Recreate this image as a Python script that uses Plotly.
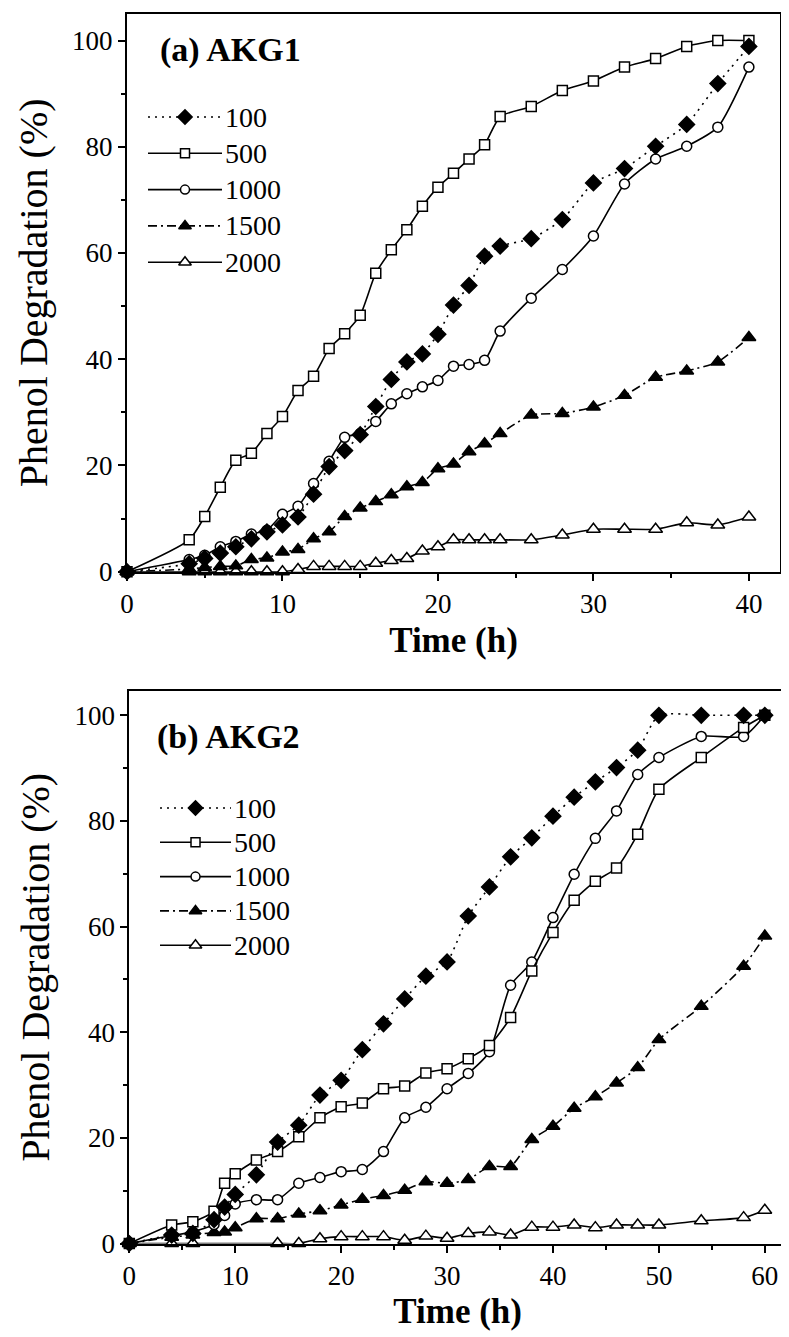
import plotly.graph_objects as go

# The page body adds an 8px margin, so the figure is drawn 8px in from the window
# corner; all layout positions below are given in window pixels and converted.
OFF = 8
FW, FH = 789 - OFF, 1337 - OFF
FONT = "Liberation Serif"


def px_x(p):
    return (p - OFF) / FW


def px_y(p):
    return 1 - (p - OFF) / FH


# ---------------- data ----------------
series_names = ["100", "500", "1000", "1500", "2000"]

# (a) AKG1
time_a = [0, 4, 5, 6, 7, 8, 9, 10, 11, 12, 13, 14, 15, 16, 17, 18, 19, 20, 21, 22,
          23, 24, 26, 28, 30, 32, 34, 36, 38, 40]
a_100 = [0, 1.5, 2.5, 3.5, 4.7, 6.2, 7.5, 8.8, 10.3, 14.6, 19.8, 22.8, 25.8, 31.1, 36.2,
         39.5, 41.0, 44.7, 50.2, 53.9, 59.4, 61.3, 62.7, 66.3, 73.2, 75.9, 80.1, 84.2, 91.9, 98.9]
a_500 = [0, 6.0, 10.4, 15.9, 21.0, 22.3, 26.0, 29.2, 34.1, 36.8, 42.0, 44.8, 48.3, 56.2, 60.6,
         64.4, 68.8, 72.4, 75.0, 77.7, 80.4, 85.7, 87.6, 90.6, 92.4, 95.0, 96.6, 98.9, 100, 100]
a_1000 = [0, 2.3, 3.1, 4.7, 5.7, 7.1, 7.8, 10.8, 12.3, 16.6, 20.8, 25.3, 26.0, 28.3, 31.6,
          33.5, 34.8, 36.0, 38.7, 39.0, 39.8, 45.3, 51.5, 56.9, 63.2, 73.0, 77.7, 80.1, 83.7, 95.0]
a_1500 = [0, 0.5, 0.8, 1.0, 1.1, 2.3, 2.6, 3.7, 4.2, 6.2, 7.5, 10.4, 12.0, 13.2, 14.5,
          16.0, 16.8, 19.4, 20.3, 22.6, 24.1, 26.0, 29.5, 29.8, 31.0, 33.2, 36.6, 37.8, 39.5, 44.1]
a_2000 = [0, 0, 0, 0, 0, 0, 0, 0, 0.4, 1.0, 1.0, 1.0, 1.0, 1.6, 2.1,
          2.5, 3.9, 4.7, 6.0, 6.0, 6.0, 6.0, 6.0, 6.9, 8.0, 8.0, 8.0, 9.2, 8.8, 10.3]

# (b) AKG2
time_b = [0, 4, 6, 8, 9, 10, 12, 14, 16, 18, 20, 22, 24, 26, 28, 30, 32, 34, 36, 38,
          40, 42, 44, 46, 48, 50, 54, 58, 60]
b_100 = [0, 1.6, 1.9, 4.5, 6.9, 9.3, 13.0, 19.2, 22.4, 28.1, 30.9, 36.7, 41.6, 46.3, 50.6,
         53.3, 62.0, 67.5, 73.2, 76.8, 80.9, 84.5, 87.4, 90.1, 93.4, 100, 100, 100, 100]
b_500 = [0, 3.5, 4.1, 6.1, 11.4, 13.2, 15.8, 17.4, 20.2, 23.8, 25.9, 26.6, 29.3, 29.8, 32.3,
         33.1, 35.0, 37.5, 42.8, 51.6, 58.9, 65.0, 68.6, 71.1, 77.5, 86.0, 92.0, 97.7, 100]
b_1000 = [0, 1.5, 2.2, 3.6, 5.3, 7.5, 8.3, 8.3, 11.4, 12.5, 13.6, 14.0, 17.4, 23.8, 25.8,
          29.3, 32.2, 36.3, 48.9, 53.3, 61.7, 69.9, 76.7, 81.9, 88.8, 92.0, 96.0, 96.0, 100]
b_1500 = [0, 1.2, 1.6, 2.1, 2.2, 3.0, 4.7, 4.7, 5.6, 6.2, 7.3, 8.4, 9.1, 10.1, 11.7,
          11.4, 12.1, 14.6, 14.6, 19.7, 22.2, 25.6, 27.8, 30.4, 33.3, 38.6, 44.9, 52.5, 58.2]
time_b2000 = [0, 4, 6, 14, 16, 18, 20, 22, 24, 26, 28, 30, 32, 34, 36, 38, 40, 42, 44, 46,
              48, 50, 54, 58, 60]
b_2000 = [0, 0, 0, 0, 0, 0.9, 1.3, 1.3, 1.3, 0.6, 1.4, 1.0, 1.9, 2.2, 1.6, 3.1, 3.1, 3.5, 3.0,
          3.5, 3.5, 3.5, 4.3, 4.9, 6.3]

x_ticks_a = [0, 10, 20, 30, 40]
x_ticks_b = [0, 10, 20, 30, 40, 50, 60]
y_ticks = [0, 20, 40, 60, 80, 100]

# ---------------- styles ----------------
DOT = "2px,5px"
DASHDOT = "9px,4px,2px,4px"
style = {
    "100": dict(dash=DOT, symbol="diamond", fill="black", size=12),
    "500": dict(dash="solid", symbol="square", fill="white", size=10),
    "1000": dict(dash="solid", symbol="circle", fill="white", size=10),
    "1500": dict(dash=DASHDOT, symbol="triangle-up", fill="black", size=12),
    "2000": dict(dash="solid", symbol="triangle-up", fill="white", size=12),
}
draw_order = ["2000", "1500", "1000", "500", "100"]

fig = go.Figure()

panels = [
    ("x", "y", {"100": (time_a, a_100), "500": (time_a, a_500), "1000": (time_a, a_1000),
                "1500": (time_a, a_1500), "2000": (time_a, a_2000)}),
    ("x2", "y2", {"100": (time_b, b_100), "500": (time_b, b_500), "1000": (time_b, b_1000),
                  "1500": (time_b, b_1500), "2000": (time_b2000, b_2000)}),
]

for xa, ya, data in panels:
    for name in draw_order:
        xs, ys = data[name]
        s = style[name]
        fig.add_trace(go.Scatter(
            x=xs, y=ys, mode="lines+markers", name=name, showlegend=False,
            xaxis=xa, yaxis=ya, cliponaxis=False,
            line=dict(color="black", width=1.6, dash=s["dash"], shape="spline", smoothing=0.6),
            marker=dict(symbol=s["symbol"], size=s["size"], color=s["fill"],
                        line=dict(color="black", width=1.5)),
        ))

# ---------------- manual legends (window-pixel overlay axis) ----------------
legend_boxes = [
    dict(x0=148, x1=222, y0=117, dy=36.3),
    dict(x0=160, x1=231, y0=808, dy=34.3),
]
annotations = []
for box in legend_boxes:
    for i, name in enumerate(series_names):
        s = style[name]
        yy = box["y0"] + i * box["dy"]
        fig.add_trace(go.Scatter(
            x=[box["x0"], box["x1"]], y=[yy, yy], mode="lines", showlegend=False,
            xaxis="x3", yaxis="y3", hoverinfo="skip",
            line=dict(color="black", width=1.6, dash=s["dash"]),
        ))
        fig.add_trace(go.Scatter(
            x=[(box["x0"] + box["x1"]) / 2], y=[yy], mode="markers", showlegend=False,
            xaxis="x3", yaxis="y3", hoverinfo="skip",
            marker=dict(symbol=s["symbol"], size=s["size"] - 1, color=s["fill"],
                        line=dict(color="black", width=1.5)),
        ))
        annotations.append(dict(
            x=box["x1"] + 1, y=yy, xref="x3", yref="y3", text=name, showarrow=False,
            xanchor="left", yanchor="middle", font=dict(family=FONT, size=28, color="black"),
        ))

annotations.append(dict(x=px_x(158), y=px_y(50), xref="paper", yref="paper",
                        text="<b>(a) AKG1</b>", showarrow=False, xanchor="left", yanchor="middle",
                        font=dict(family=FONT, size=34, color="black")))
annotations.append(dict(x=px_x(155), y=px_y(737), xref="paper", yref="paper",
                        text="<b>(b) AKG2</b>", showarrow=False, xanchor="left", yanchor="middle",
                        font=dict(family=FONT, size=34, color="black")))

axis_common = dict(
    showgrid=False, zeroline=False, showline=True, linecolor="black", linewidth=2,
    mirror=True, ticks="outside", ticklen=7, tickwidth=1.5, tickcolor="black",
    tickfont=dict(family=FONT, size=27, color="black"),
)
minor_x = dict(dtick=5, ticklen=4, tickwidth=1.5, ticks="outside", tickcolor="black")
minor_y = dict(dtick=10, ticklen=4, tickwidth=1.5, ticks="outside", tickcolor="black")
xtitle = dict(text="<b>Time (h)</b>", font=dict(family=FONT, size=35, color="black"), standoff=9)
ytitle = dict(text="Phenol Degradation (%)", font=dict(family=FONT, size=40, color="black"),
              standoff=12)

fig.update_layout(
    width=FW, height=FH, autosize=False,
    margin=dict(l=0, r=0, t=0, b=0),
    paper_bgcolor="white", plot_bgcolor="rgba(0,0,0,0)",
    template="none",
    showlegend=False,
    annotations=annotations,
    xaxis=dict(axis_common, domain=[px_x(127), px_x(780)], anchor="y", range=[0, 42],
               tickvals=x_ticks_a, minor=minor_x, title=xtitle),
    yaxis=dict(axis_common, domain=[px_y(571.7), px_y(14)], anchor="x", range=[0, 105],
               tickvals=y_ticks, minor=minor_y, title=ytitle),
    xaxis2=dict(axis_common, domain=[px_x(129.3), px_x(786)], anchor="y2", range=[0, 62],
                tickvals=x_ticks_b, minor=minor_x, title=xtitle),
    yaxis2=dict(axis_common, domain=[px_y(1243.5), px_y(691)], anchor="x2", range=[0, 104.6],
                tickvals=y_ticks, minor=minor_y, title=ytitle),
    xaxis3=dict(domain=[0, 1], anchor="y3", range=[OFF, OFF + FW], visible=False, fixedrange=True),
    yaxis3=dict(domain=[0, 1], anchor="x3", range=[OFF + FH, OFF], visible=False, fixedrange=True),
)

fig.write_html("out.html")
